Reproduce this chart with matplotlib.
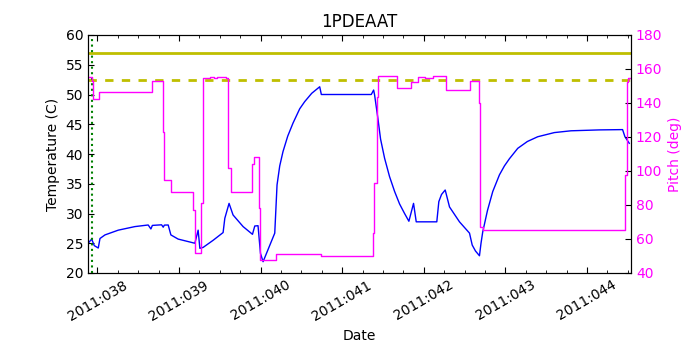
import numpy as np
import matplotlib
matplotlib.use("Agg")
import matplotlib.pyplot as plt
from matplotlib.ticker import FuncFormatter, MultipleLocator

# 1PDEAAT temperature (day of year 2011, degC)
temp_days = [37.897, 37.930, 37.962, 38.011, 38.032, 38.093, 38.256, 38.460, 38.623,
             38.656, 38.674, 38.787, 38.807, 38.821, 38.868, 38.901, 38.990, 39.195,
             39.235, 39.256, 39.296, 39.419, 39.541, 39.562, 39.614, 39.663, 39.786,
             39.901, 39.929, 39.969, 39.999, 40.031, 40.174, 40.202, 40.235, 40.275,
             40.333, 40.398, 40.480, 40.541, 40.627, 40.725, 40.745, 41.357, 41.386,
             41.398, 41.438, 41.471, 41.520, 41.581, 41.643, 41.704, 41.765, 41.818,
             41.875, 41.908, 42.160, 42.185, 42.218, 42.263, 42.316, 42.438, 42.561,
             42.594, 42.634, 42.683, 42.702, 42.723, 42.781, 42.846, 42.928, 42.989,
             43.050, 43.152, 43.270, 43.397, 43.601, 43.805, 44.152, 44.437, 44.466,
             44.519]
temp_vals = [25.16, 25.7, 24.6, 24.2, 25.8, 26.4, 27.2, 27.8, 28.07,
             27.4, 28.0, 28.1, 27.7, 28.05, 28.07, 26.4, 25.7, 25.0,
             27.2, 24.15, 24.3, 25.5, 26.8, 29.2, 31.7, 29.75, 27.8,
             26.5, 27.9, 27.95, 23.3, 21.9, 26.7, 34.8, 38.0, 40.4,
             43.0, 45.2, 47.6, 48.8, 50.2, 51.3, 50.0, 50.0, 50.75,
             49.9, 46.0, 42.5, 39.3, 36.2, 33.7, 31.6, 30.0, 28.7,
             31.7, 28.6, 28.6, 32.0, 33.2, 33.95, 31.1, 28.6, 26.7,
             24.7, 23.7, 22.9, 25.0, 26.9, 30.5, 33.7, 36.5, 38.0,
             39.2, 40.95, 42.1, 42.9, 43.6, 43.9, 44.05, 44.1, 42.9,
             41.8]

# spacecraft pitch (deg), held until next change
pitch_days = [37.885, 37.934, 37.946, 38.023, 38.665, 38.807, 38.819, 38.901, 39.170,
              39.195, 39.268, 39.289, 39.378, 39.427, 39.464, 39.574, 39.602, 39.632,
              39.901, 39.917, 39.982, 39.999, 40.186, 40.738, 41.378, 41.390, 41.431,
              41.437, 41.676, 41.847, 41.928, 42.010, 42.111, 42.267, 42.573, 42.683,
              42.695, 42.723, 44.466, 44.486, 44.500, 44.540]
pitch_vals = [155.3, 153.0, 142.4, 146.3, 153.0, 123.1, 94.6, 87.9, 77.0,
              51.8, 81.0, 154.5, 155.2, 154.8, 155.4, 154.5, 101.6, 87.9,
              104.0, 108.4, 78.5, 47.5, 51.0, 50.2, 63.4, 92.8, 143.7,
              155.9, 148.6, 152.5, 155.5, 155.0, 155.9, 147.6, 153.1, 139.8,
              67.3, 65.3, 97.7, 152.5, 155.0, 155.0]

limit_temp = 57.0
planning_temp = 52.5
start_day = 37.938

fig = plt.figure(figsize=(7, 3.5), dpi=100)
ax = fig.add_axes([0.1257, 0.22, 0.7757, 0.68])
ax.plot(temp_days, temp_vals, color="b", lw=1)
ax.axhline(limit_temp, color="y", lw=2)
ax.axhline(planning_temp, color="y", lw=2, ls="--", dashes=(3, 3))
ax.axvline(start_day, color="g", lw=1.5, ls=":")
ax.set_xlim(37.885, 44.54)
ax.set_ylim(20, 60)
ax.set_title("1PDEAAT", fontsize=12)
ax.set_xlabel("Date", fontsize=10)
ax.set_ylabel("Temperature (C)", fontsize=10)
ax.xaxis.set_major_locator(MultipleLocator(1))
ax.xaxis.set_minor_locator(MultipleLocator(0.25))
ax.xaxis.set_major_formatter(FuncFormatter(lambda d, p: "2011:%03d" % int(round(d))))
ax.tick_params(axis="both", which="both", direction="in", top=True, labelsize=10)
ax.tick_params(axis="both", which="major", length=4)
ax.tick_params(axis="both", which="minor", length=2)
for lbl in ax.get_xticklabels():
    lbl.set_rotation(30)
    lbl.set_ha("center")

ax2 = ax.twinx()
ax2.plot(pitch_days, pitch_vals, color="magenta", lw=1, drawstyle="steps-post")
ax2.set_ylim(40, 180)
ax2.set_ylabel("Pitch (deg)", color="magenta", fontsize=10)
ax2.tick_params(axis="y", direction="in", length=4, labelsize=10, labelcolor="magenta")
ax2.set_xlim(37.885, 44.54)

fig.savefig("out.png", dpi=100)
